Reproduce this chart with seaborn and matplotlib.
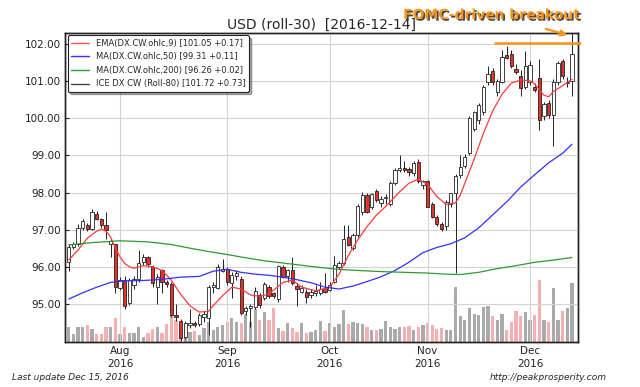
import numpy as np
import pandas as pd
import seaborn as sns
import matplotlib
matplotlib.use("Agg")
import matplotlib.pyplot as plt
import matplotlib.patheffects as pe
from matplotlib.lines import Line2D

# trading days shown on the chart
dates = pd.bdate_range("2016-07-15", "2016-12-14")

# OHLC of the dollar index continuous contract
opens = [96.14, 96.54, 96.60, 97.05, 97.13, 97.02, 97.42, 97.29, 97.13, 96.62,
         96.60, 95.42, 95.65, 95.03, 95.50, 95.67, 96.13, 96.27, 96.00, 95.46,
         95.90, 95.60, 95.54, 94.71, 94.55, 94.10, 94.43, 94.49, 94.46, 94.65,
         94.62, 95.45, 95.43, 95.89, 95.94, 95.57, 95.75, 95.67, 94.80, 94.90,
         94.92, 95.24, 95.15, 95.46, 95.28, 95.12, 96.00, 95.75, 95.91, 95.47,
         95.33, 95.33, 95.24, 95.28, 95.30, 95.42, 95.38, 95.60, 96.00, 96.09,
         96.79, 96.50, 96.86, 97.48, 97.93, 97.60, 98.05, 97.72, 97.84, 97.70,
         98.25, 98.61, 98.67, 98.63, 98.52, 98.82, 98.20, 98.31, 97.68, 97.35,
         97.14, 97.10, 97.70, 97.98, 98.47, 98.71, 99.06, 99.72, 99.95, 100.16,
         100.99, 101.28, 100.72, 100.99, 101.70, 101.73, 101.32, 101.15, 100.83, 100.99,
         100.84, 101.08, 100.07, 100.41, 100.10, 100.99, 101.53, 100.95, 101.00]
highs = [96.62, 96.68, 97.14, 97.29, 97.18, 97.56, 97.50, 97.32, 97.48, 96.75,
         96.62, 95.72, 95.75, 95.70, 95.75, 96.45, 96.35, 96.30, 96.05, 95.80,
         95.95, 95.65, 95.60, 95.00, 94.60, 94.55, 94.85, 94.55, 94.75, 94.80,
         95.50, 95.60, 96.08, 96.20, 96.00, 95.85, 95.90, 95.75, 94.95, 95.00,
         95.45, 95.30, 95.60, 95.50, 95.32, 96.05, 96.05, 95.95, 96.27, 95.55,
         95.50, 95.40, 95.40, 95.50, 95.60, 95.83, 95.60, 96.30, 96.15, 97.13,
         97.13, 96.90, 97.70, 98.02, 97.98, 98.00, 98.10, 97.90, 97.95, 98.30,
         98.65, 99.01, 98.85, 98.70, 98.85, 98.90, 98.35, 98.35, 97.75, 97.40,
         97.20, 97.80, 98.00, 98.50, 99.00, 99.05, 100.05, 100.20, 100.40, 100.90,
         101.40, 101.35, 101.05, 101.84, 101.95, 101.85, 101.45, 101.30, 101.80, 101.55,
         100.95, 101.60, 100.45, 100.50, 101.05, 101.55, 101.60, 101.10, 102.40]
lows = [95.89, 96.48, 96.55, 96.98, 96.95, 96.98, 97.25, 97.05, 96.75, 96.25,
        95.30, 95.38, 94.87, 94.98, 95.40, 95.60, 96.05, 96.00, 95.45, 95.00,
        95.30, 95.45, 94.65, 94.55, 94.00, 94.05, 94.35, 94.38, 94.40, 94.50,
        94.15, 95.30, 95.40, 95.85, 95.50, 95.16, 95.65, 94.70, 94.70, 94.38,
        94.85, 94.90, 95.10, 95.15, 95.15, 95.05, 95.70, 95.60, 95.50, 94.94,
        95.28, 95.02, 95.15, 95.20, 95.25, 95.30, 95.35, 95.55, 95.95, 96.05,
        96.55, 96.45, 96.80, 97.40, 97.45, 97.55, 97.75, 97.60, 97.70, 97.65,
        98.20, 98.55, 98.55, 98.45, 98.45, 98.25, 98.10, 97.60, 97.30, 97.10,
        96.95, 97.00, 97.60, 95.82, 98.40, 98.65, 99.00, 99.65, 99.85, 100.10,
        100.90, 100.90, 100.60, 100.95, 101.60, 101.35, 101.20, 100.60, 100.78, 100.90,
        100.70, 99.69, 99.95, 100.00, 99.24, 100.90, 101.05, 100.85, 100.60]
closes = [96.54, 96.60, 97.05, 97.22, 97.01, 97.48, 97.29, 97.13, 97.00, 96.70,
          95.45, 95.65, 94.93, 95.65, 95.68, 96.10, 96.27, 96.08, 95.56, 95.73,
          95.60, 95.54, 94.70, 94.65, 94.08, 94.49, 94.49, 94.43, 94.70, 94.72,
          95.46, 95.50, 95.99, 95.94, 95.59, 95.78, 95.82, 94.76, 94.88, 94.95,
          95.35, 94.97, 95.54, 95.20, 95.21, 96.02, 95.73, 95.91, 95.57, 95.40,
          95.42, 95.18, 95.32, 95.35, 95.39, 95.33, 95.51, 96.05, 96.09, 96.74,
          96.59, 96.86, 97.64, 97.93, 97.48, 97.95, 97.80, 97.82, 97.88, 98.25,
          98.61, 98.67, 98.61, 98.54, 98.79, 98.30, 98.31, 97.62, 97.33, 97.14,
          97.02, 97.75, 97.98, 98.45, 98.70, 98.97, 100.02, 100.16, 100.35, 100.85,
          101.19, 100.98, 101.00, 101.65, 101.63, 101.42, 101.26, 100.81, 101.42, 101.44,
          100.75, 99.94, 100.39, 100.10, 100.99, 101.49, 101.13, 100.99, 101.72]
volume = [15, 8, 15, 15, 17, 13, 8, 8, 15, 15,
          24, 8, 15, 9, 9, 15, 5, 9, 13, 15,
          9, 18, 28, 22, 20, 14, 10, 11, 7, 14,
          20, 12, 15, 17, 20, 24, 20, 19, 28, 20,
          33, 22, 30, 22, 34, 14, 11, 19, 14, 10,
          19, 9, 10, 12, 21, 11, 19, 15, 18, 32,
          18, 20, 19, 18, 15, 12, 12, 13, 21, 15,
          13, 15, 15, 16, 12, 15, 17, 19, 17, 13,
          14, 12, 12, 55, 26, 22, 34, 28, 27, 35,
          36, 26, 22, 28, 12, 20, 31, 26, 30, 22,
          27, 62, 22, 20, 54, 22, 31, 34, 59]

# indicator lines, sampled by day index
ema_x = [0, 2, 4, 6, 7, 8, 9, 10, 11, 12, 13, 14, 16, 18, 20, 22, 24, 26, 28, 30,
         31, 33, 35, 37, 39, 41, 43, 46, 48, 50, 53, 56, 58, 60, 62, 64, 66, 68, 71, 73,
         75, 77, 79, 81, 83, 84, 85, 87, 89, 91, 93, 95, 97, 99, 100, 102, 103, 104, 106, 108]
ema_y = [96.18, 96.45, 96.77, 96.96, 97.01, 96.96, 96.80, 96.50, 96.27, 96.09,
         96.00, 95.96, 96.03, 96.00, 95.90, 95.64, 95.26, 94.95, 94.78, 94.80,
         94.95, 95.22, 95.45, 95.40, 95.24, 95.20, 95.27, 95.58, 95.64, 95.45,
         95.35, 95.45, 95.80, 96.30, 96.72, 97.08, 97.39, 97.62, 98.02, 98.25,
         98.36, 98.22, 97.89, 97.68, 97.72, 97.92, 98.25, 98.90, 99.60, 100.20,
         100.65, 100.95, 101.03, 101.01, 100.92, 100.62, 100.58, 100.72, 100.88, 101.05]
ma50_x = [0, 3, 6, 9, 12, 16, 20, 24, 28, 31, 34, 37, 40, 43, 46, 49, 52, 55, 58, 61,
          64, 67, 70, 73, 76, 79, 82, 85, 88, 91, 94, 97, 100, 103, 106, 108]
ma50_y = [95.13, 95.30, 95.45, 95.58, 95.62, 95.63, 95.66, 95.72, 95.74, 95.88,
          95.93, 95.85, 95.80, 95.77, 95.72, 95.65, 95.57, 95.45, 95.40, 95.48,
          95.60, 95.73, 95.90, 96.12, 96.38, 96.52, 96.62, 96.78, 97.05, 97.40,
          97.75, 98.15, 98.48, 98.80, 99.06, 99.30]
ma200_x = [0, 5, 11, 17, 22, 26, 30, 34, 38, 42, 46, 50, 54, 58, 62, 67, 72, 77, 81, 84,
           88, 92, 96, 100, 104, 108]
ma200_y = [96.59, 96.65, 96.70, 96.67, 96.60, 96.50, 96.41, 96.33, 96.24, 96.16,
           96.10, 96.04, 95.98, 95.93, 95.90, 95.87, 95.85, 95.83, 95.80, 95.79,
           95.85, 95.95, 96.03, 96.12, 96.18, 96.25]

legend_labels = ["EMA(DX.CW.ohlc,9) [101.05 +0.17]",
                 "MA(DX.CW.ohlc,50) [99.31 +0.11]",
                 "MA(DX.CW.ohlc,200) [96.26 +0.02]",
                 "ICE DX CW (Roll-80) [101.72 +0.73]"]
breakout_level = 102.02

df = pd.DataFrame({"Date": dates, "Open": opens, "High": highs,
                   "Low": lows, "Close": closes, "Volume": volume})
df["i"] = np.arange(len(df))
df["up"] = df["Close"] >= df["Open"]

sns.set_style("whitegrid")
plt.rcParams["font.family"] = ["DejaVu Sans"]

fig = plt.figure(figsize=(6.4, 3.87), dpi=100)
ax = fig.add_axes([0.1016, 0.116, 0.8016, 0.799])
axv = ax.twinx()
ax.set_zorder(axv.get_zorder() + 1)
ax.patch.set_visible(False)
axv.set_facecolor("#f4f4f4")
axv.grid(False)

# volume bars in the bottom strip
vcol = np.where(df["up"], "#aaaaaa", "#f4b0b0")
axv.bar(df["i"], df["Volume"], width=0.7, color=vcol, linewidth=0)
axv.set_ylim(0, 309)
axv.set_yticks([])

# candles
ax.vlines(df["i"], df["Low"], df["High"], color="#222222", lw=0.7, zorder=2)
body_low = np.minimum(df["Open"], df["Close"])
body_h = np.maximum((df["Close"] - df["Open"]).abs(), 0.02)
bcol = np.where(df["up"], "white", "#e8302c")
ax.bar(df["i"], body_h, bottom=body_low, width=0.7, color=bcol,
       edgecolor="#222222", linewidth=0.6, zorder=3)

sns.lineplot(x=ema_x, y=ema_y, ax=ax, color="#ff3b3b", lw=0.9, zorder=4)
sns.lineplot(x=ma50_x, y=ma50_y, ax=ax, color="#3030ff", lw=0.9, zorder=4)
sns.lineplot(x=ma200_x, y=ma200_y, ax=ax, color="#2e9a2e", lw=0.9, zorder=4)

handles = [Line2D([], [], color="#ff5555", lw=1),
           Line2D([], [], color="#3030ff", lw=1),
           Line2D([], [], color="#2e9a2e", lw=1),
           Line2D([], [], color="#444444", lw=1)]
leg = ax.legend(handles, legend_labels, loc="upper left", fontsize=6,
                frameon=True, fancybox=True, shadow=True, framealpha=1,
                borderaxespad=0.3, handlelength=2.2, labelspacing=0.55)
leg.get_frame().set_edgecolor("#222222")
leg.get_frame().set_linewidth(0.8)

ax.set_xlim(-0.8, 109.3)
ax.set_ylim(93.97, 102.30)
ax.set_yticks(range(95, 103))
ax.set_yticklabels([f"{v:.2f}" for v in range(95, 103)], fontsize=7.5)

first_days = df.groupby(df["Date"].dt.to_period("M"))["i"].min()
month_pos = [int(p) for m, p in first_days.items() if p > 0]
month_lab = [d.strftime("%b\n%Y") for d in df["Date"].iloc[month_pos]]
ax.set_xticks(month_pos)
ax.set_xticklabels(month_lab, fontsize=7.5, linespacing=1.35)
ax.tick_params(axis="both", length=3, direction="in", pad=3, colors="#222222")
ax.grid(True, color="#d2d2d2", lw=0.8)
for sp in list(ax.spines.values()) + list(axv.spines.values()):
    sp.set_color("#222222")
    sp.set_linewidth(1.0)

ax.set_title("USD (roll-30)  [2016-12-14]", fontsize=10, pad=3)

# annotation
orange = "#f7941d"
ax.axhline(breakout_level, xmin=0.838, xmax=1.004, color=orange, lw=1.8,
           clip_on=False, zorder=6)
ax.annotate("", xy=(107.6, 102.22), xytext=(101.8, 102.43),
            arrowprops=dict(arrowstyle="-|>", color=orange, lw=1.6,
                            mutation_scale=9),
            annotation_clip=False, zorder=6)
fig.text(491.5 / 640, 1 - 15 / 387, "FOMC-driven breakout", ha="center",
         va="center", fontsize=10, fontweight="bold", color=orange,
         path_effects=[pe.withSimplePatchShadow(offset=(1.2, -1.2),
                                                shadow_rgbFace="#333333",
                                                alpha=0.9)])

fig.text(12 / 640, 1 - 377 / 387, "Last update Dec 15, 2016", style="italic",
         fontsize=6.5, va="center", ha="left")
fig.text(607 / 640, 1 - 377 / 387, "http://peakprosperity.com", style="italic",
         fontsize=6.5, va="center", ha="right")

fig.savefig("out.png", dpi=100)
